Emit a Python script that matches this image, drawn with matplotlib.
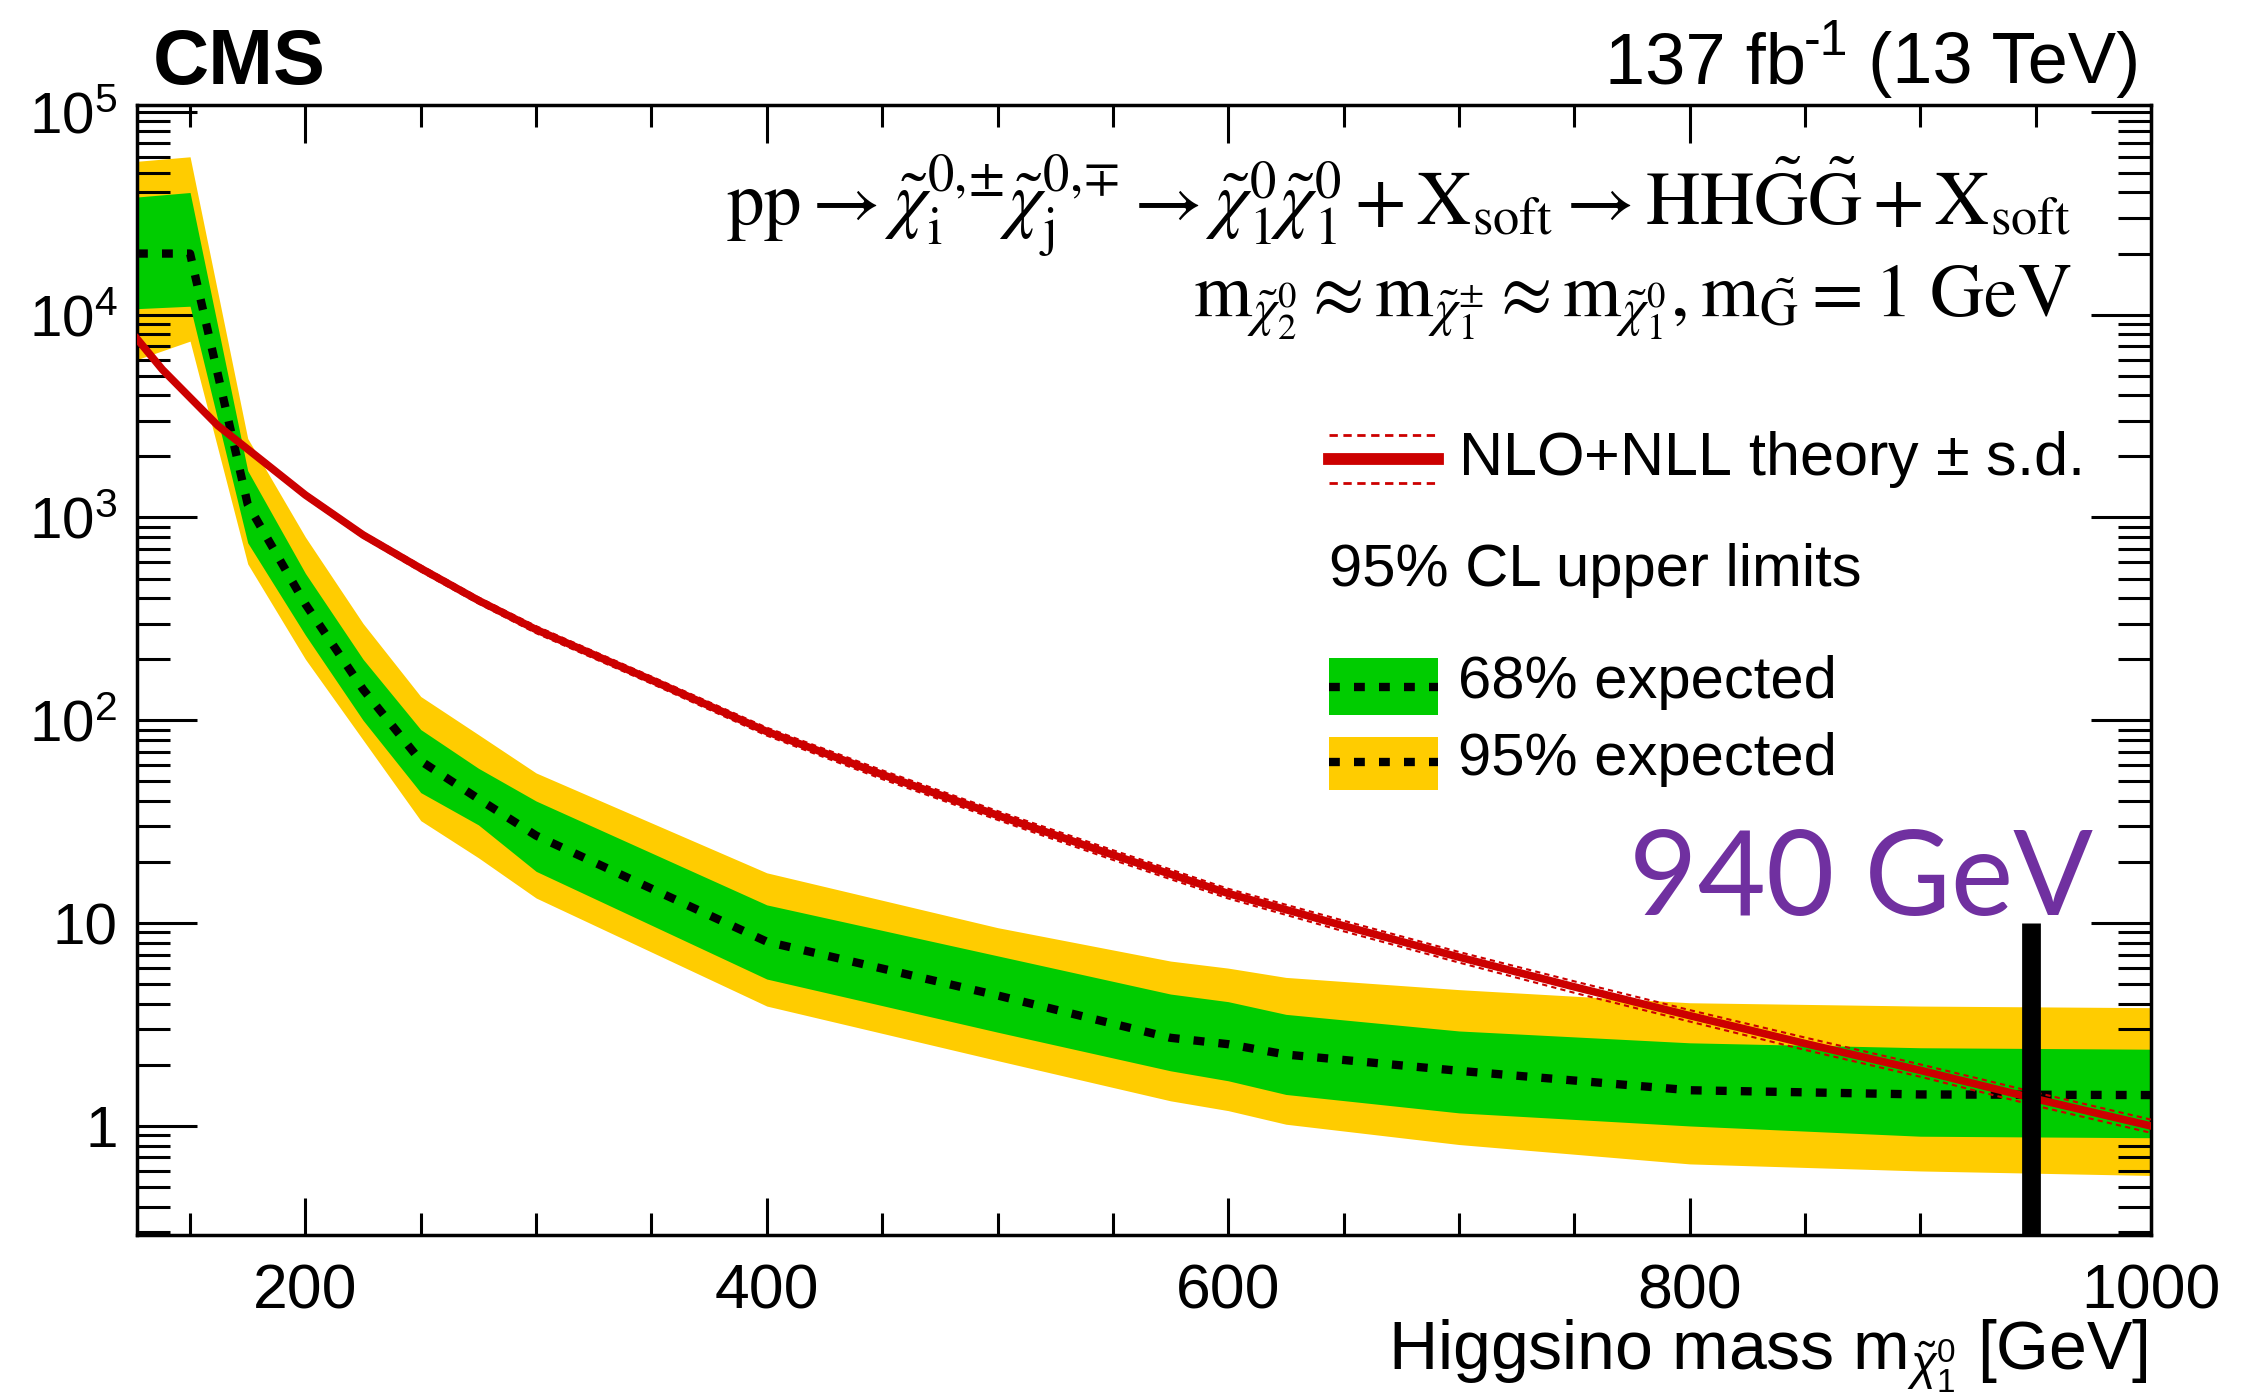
# expected 95% CL limits for higgsino pair production -> HH + gravitinos

import math
import matplotlib.pyplot as plt
from matplotlib.lines import Line2D
from matplotlib.patches import Rectangle
from matplotlib.ticker import FixedLocator, LogLocator, NullFormatter, FuncFormatter, MultipleLocator

plt.rcParams['font.family'] = ['Liberation Sans', 'DejaVu Sans']
plt.rcParams['mathtext.fontset'] = 'custom'
plt.rcParams['mathtext.rm'] = 'Liberation Sans'
plt.rcParams['mathtext.it'] = 'Liberation Sans:italic'
plt.rcParams['mathtext.bf'] = 'Liberation Sans:bold'

# expected limit per mass point [GeV] -> cross section limit [fb]
mass = [127, 150, 175, 200, 225, 250, 275, 300, 400, 500, 575, 600, 625, 700, 800, 900, 1000]
exp_med = [2.0e4, 2.0e4, 1160, 374, 142, 63, 41, 27, 8.1, 4.4, 2.72, 2.53, 2.25, 1.87, 1.50, 1.43, 1.42]
exp_up1 = [3.8e4, 4.0e4, 1700, 530, 200, 90, 58, 40, 12.3, 6.9, 4.47, 4.1, 3.55, 2.94, 2.57, 2.43, 2.39]
exp_dn1 = [1.07e4, 1.1e4, 750, 263, 100, 44, 30.5, 18, 5.3, 2.9, 1.87, 1.67, 1.43, 1.16, 1.0, 0.89, 0.875]
exp_up2 = [5.7e4, 6.0e4, 2450, 800, 300, 131, 85, 55, 17.7, 9.5, 6.5, 6.0, 5.4, 4.7, 4.05, 3.9, 3.83]
exp_dn2 = [6.0e3, 7.4e3, 590, 200, 80, 32, 21, 13.3, 3.9, 2.1, 1.33, 1.19, 1.02, 0.81, 0.65, 0.6, 0.57]

# NLO+NLL theory cross section
theo_mass = [127, 138, 150, 162, 175, 200, 225, 250, 275, 300, 350, 400, 450, 500, 550, 600,
             650, 700, 750, 800, 850, 900, 950, 1000]
theo_xsec = [7600, 5360, 3900, 2840, 2170, 1290, 820, 561, 390, 280, 158, 88, 54, 34, 21.7, 14.0,
             9.7, 6.8, 4.85, 3.5, 2.55, 1.88, 1.36, 1.0]
theo_unc = [0.03, 0.03, 0.03, 0.03, 0.03, 0.03, 0.03, 0.035, 0.035, 0.04, 0.04, 0.045, 0.05, 0.05,
            0.055, 0.055, 0.06, 0.06, 0.065, 0.065, 0.07, 0.07, 0.075, 0.075]

limit_mass = 948
limit_top = 10

W, H = 2253, 1398
fig = plt.figure(figsize=(W / 100, H / 100), dpi=100)

def fx(x):
    return x / W

def fy(y):
    return 1 - y / H

ax = fig.add_axes([fx(137), fy(1235), fx(2151) - fx(137), fy(105) - fy(1235)])

yellow = '#FFCC00'
green = '#00CC00'
red = '#CC0000'
dots = (1.3, 1.7)

ax.fill_between(mass, exp_dn2, exp_up2, color=yellow, lw=0, zorder=1)
ax.fill_between(mass, exp_dn1, exp_up1, color=green, lw=0, zorder=2)
ax.plot(mass, exp_med, color='black', lw=6, dashes=dots, dash_capstyle='butt', zorder=3)

theo_hi = [x * (1 + u) for x, u in zip(theo_xsec, theo_unc)]
theo_lo = [x * (1 - u) for x, u in zip(theo_xsec, theo_unc)]
ax.plot(theo_mass, theo_hi, color=red, lw=1.5, dashes=(2.5, 2), zorder=4)
ax.plot(theo_mass, theo_lo, color=red, lw=1.5, dashes=(2.5, 2), zorder=4)
ax.plot(theo_mass, theo_xsec, color=red, lw=5.5, zorder=5)

# observed limit marker
ax.plot([limit_mass, limit_mass], [0.29, limit_top], color='black', lw=13.5,
        solid_capstyle='butt', zorder=6, clip_on=False)

ax.set_yscale('log')
ax.set_xlim(127, 1000)
ax.set_ylim(0.29, 1.08e5)

ax.xaxis.set_major_locator(MultipleLocator(200))
ax.xaxis.set_minor_locator(MultipleLocator(50))
ax.yaxis.set_major_locator(FixedLocator([1, 10, 1e2, 1e3, 1e4, 1e5]))
ax.yaxis.set_minor_locator(LogLocator(base=10, subs=range(2, 10), numticks=20))
ax.yaxis.set_minor_formatter(NullFormatter())

def ylab(v, pos):
    if v < 5:
        return '1'
    if v < 50:
        return '10'
    return r'$\mathdefault{10^{%d}}$' % int(round(math.log10(v)))

ax.yaxis.set_major_formatter(FuncFormatter(ylab))

ax.tick_params(which='both', direction='in', top=True, right=True, width=2.2, color='black')
ax.tick_params(axis='x', which='major', length=27, labelsize=45, pad=20)
ax.tick_params(axis='x', which='minor', length=16)
ax.tick_params(axis='y', which='major', length=43, labelsize=42, pad=14)
ax.tick_params(axis='y', which='minor', length=24)
for s in ax.spines.values():
    s.set_linewidth(2.5)

# header texts
fig.text(fx(153), fy(84), 'CMS', fontsize=56, fontweight='bold', va='baseline')

r = fig.canvas.get_renderer()
t1 = fig.text(fx(2140), fy(83), ' (13 TeV)', fontsize=52, ha='right', va='baseline')
x_sup = t1.get_window_extent(r).x0
t2 = fig.text(x_sup / W, fy(55), '-1', fontsize=36, ha='right', va='baseline')
x_fb = t2.get_window_extent(r).x0 + 3
fig.text(x_fb / W, fy(83), '137 fb', fontsize=52, ha='right', va='baseline')

proc = (r'$\mathrm{pp} \rightarrow \tilde{\chi}^{0,\!{\pm}}_{\mathrm{i}}\tilde{\chi}^{0,\!{\mp}}_{\mathrm{j}}'
        r'\rightarrow \tilde{\chi}^{0}_{1}\tilde{\chi}^{0}_{1} + \mathrm{X}_{\mathrm{soft}}'
        r'\rightarrow \mathrm{HH}\tilde{\mathrm{G}}\tilde{\mathrm{G}} + \mathrm{X}_{\mathrm{soft}}$')
masses = (r'$\mathrm{m}_{\tilde{\chi}^{0}_{2}} \approx \mathrm{m}_{\tilde{\chi}^{\pm}_{1}} \approx '
          r'\mathrm{m}_{\tilde{\chi}^{0}_{1}}, \mathrm{m}_{\tilde{\mathrm{G}}} = 1\ \mathrm{GeV}$')
fig.text(fx(2071), fy(226), proc, fontsize=54, ha='right', va='baseline', math_fontfamily='stix')
fig.text(fx(2071), fy(316), masses, fontsize=54, ha='right', va='baseline', math_fontfamily='stix')

# legend drawn by hand
x0, x1 = fx(1329), fx(1438)
fig.add_artist(Line2D([x0, x1], [fy(435)] * 2, color=red, lw=2, dashes=(3, 2), transform=fig.transFigure))
fig.add_artist(Line2D([x0, x1], [fy(483)] * 2, color=red, lw=2, dashes=(3, 2), transform=fig.transFigure))
fig.add_artist(Line2D([x0, x1], [fy(459)] * 2, color=red, lw=8.5, transform=fig.transFigure))
fig.text(fx(1458), fy(459), r'NLO+NLL theory $\pm$ s.d.', fontsize=44, va='center')

fig.text(fx(1329), fy(570), '95% CL upper limits', fontsize=43, va='center')

fig.add_artist(Rectangle((x0, fy(715)), x1 - x0, fy(658) - fy(715), color=green, lw=0,
                         transform=fig.transFigure))
fig.add_artist(Line2D([x0, x1], [fy(687)] * 2, color='black', lw=6, dashes=dots,
                      dash_capstyle='butt', transform=fig.transFigure))
fig.text(fx(1458), fy(683), '68% expected', fontsize=43, va='center')

fig.add_artist(Rectangle((x0, fy(790)), x1 - x0, fy(737) - fy(790), color=yellow, lw=0,
                         transform=fig.transFigure))
fig.add_artist(Line2D([x0, x1], [fy(762)] * 2, color='black', lw=6, dashes=dots,
                      dash_capstyle='butt', transform=fig.transFigure))
fig.text(fx(1458), fy(760), '95% expected', fontsize=43, va='center')

# mass reach annotation
fig.text(fx(2093), fy(915), '940 GeV', fontsize=85, color='#7030A0', ha='right', va='baseline',
         family=['Lato', 'DejaVu Sans'])

# x axis title
fig.text(fx(2148), fy(1370), r'Higgsino mass m$_{\tilde{\chi}^{0}_{1}}$ [GeV]', fontsize=49,
         ha='right', va='baseline')

fig.savefig('out.png', dpi=100)
